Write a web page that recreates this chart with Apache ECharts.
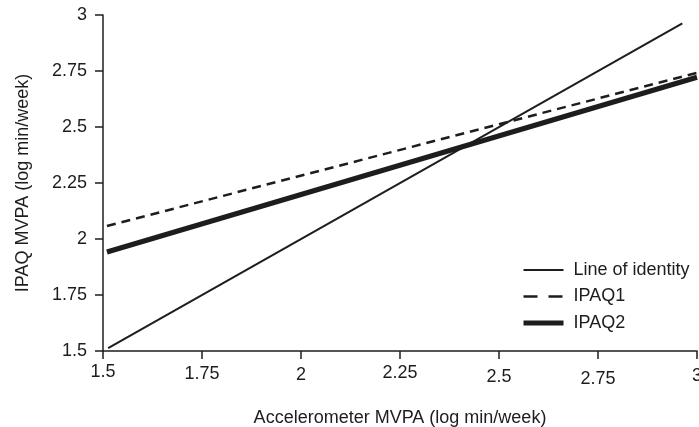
<!DOCTYPE html>
<html>
<head>
<meta charset="utf-8">
<script src="https://cdn.jsdelivr.net/npm/echarts@6/dist/echarts.min.js"></script>
<style>
html,body{margin:0;padding:0;background:#fff;}
#chart{width:699px;height:427px;}
</style>
</head>
<body>
<div id="chart"></div>
<script>
const xTicks = [1.5, 1.75, 2, 2.25, 2.5, 2.75, 3];
const yTicks = [1.5, 1.75, 2, 2.25, 2.5, 2.75, 3];
const seriesNames = ['Line of identity', 'IPAQ1', 'IPAQ2'];
const identityX = [1.513, 2.963];
const identityY = [1.513, 2.963];
const ipaq1X = [1.51, 3.0];
const ipaq1Y = [2.058, 2.742];
const ipaq2X = [1.51, 3.0];
const ipaq2Y = [1.942, 2.722];

const labelShift = [0, 2, 3, 1, 5, 7, 4];
const ink = '#1f1c1d';
const font = '"Liberation Sans", Arial, Helvetica, sans-serif';

function pairs(xs, ys) { return xs.map((x, i) => [x, ys[i]]); }

const rich = {};
labelShift.forEach((s, i) => {
  rich['o' + i] = { padding: [s, 0, 0, 0], fontSize: 18, fontFamily: font, color: ink };
});

const widths = [2, 2.5, 5];
const dashes = ['solid', [9, 6], 'solid'];
const legendDashes = ['solid', [14, 11], 'solid'];
const hidden = { color: 'rgba(0,0,0,0)', borderColor: 'rgba(0,0,0,0)', borderWidth: 0, opacity: 0 };

const chart = echarts.init(document.getElementById('chart'), null, { renderer: 'canvas' });
chart.setOption({
  animation: false,
  backgroundColor: '#fff',
  grid: { left: 103, right: 2, top: 15, bottom: 76, containLabel: false, outerBoundsMode: 'none' },
  xAxis: {
    type: 'value', min: 1.5, max: 3, interval: 0.25,
    name: 'Accelerometer MVPA (log min/week)', nameLocation: 'middle', nameGap: 58,
    nameTextStyle: { fontSize: 18, fontFamily: font, color: ink },
    axisLine: { show: true, onZero: false, lineStyle: { color: ink, width: 1.5 } },
    axisTick: { show: true, length: 8, lineStyle: { color: ink, width: 1.5 } },
    axisLabel: {
      margin: 12, fontSize: 18, fontFamily: font, color: ink, showMaxLabel: true, showMinLabel: true,
      formatter: function (v) {
        const i = xTicks.findIndex(t => Math.abs(t - v) < 1e-6);
        return '{o' + (i < 0 ? 0 : i) + '|' + v + '}';
      },
      rich: rich
    },
    splitLine: { show: false }
  },
  yAxis: {
    type: 'value', min: 1.5, max: 3, interval: 0.25,
    name: 'IPAQ MVPA (log min/week)', nameLocation: 'middle', nameGap: 71,
    nameTextStyle: { fontSize: 18, fontFamily: font, color: ink },
    axisLine: { show: true, onZero: false, lineStyle: { color: ink, width: 1.5 } },
    axisTick: { show: true, length: 8, lineStyle: { color: ink, width: 1.5 } },
    axisLabel: {
      margin: 16, fontSize: 18, fontFamily: font, color: ink, showMaxLabel: true, showMinLabel: true,
      formatter: function (v) { return String(v); }
    },
    splitLine: { show: false }
  },
  legend: {
    orient: 'vertical', left: 516, top: 256,
    itemWidth: 40, itemHeight: 14, itemGap: 8.5,
    itemStyle: hidden,
    textStyle: { fontSize: 18, fontFamily: font, color: ink, padding: [0, 0, 0, 5] },
    data: seriesNames.map((n, i) => ({
      name: n,
      itemStyle: hidden,
      lineStyle: { width: widths[i], type: legendDashes[i], color: ink }
    }))
  },
  series: seriesNames.map((n, i) => ({
    name: n, type: 'line',
    data: [pairs(identityX, identityY), pairs(ipaq1X, ipaq1Y), pairs(ipaq2X, ipaq2Y)][i],
    showSymbol: false, symbol: 'none', silent: true,
    lineStyle: { color: ink, width: widths[i], type: dashes[i] },
    itemStyle: { color: ink }
  }))
});
</script>
</body>
</html>
